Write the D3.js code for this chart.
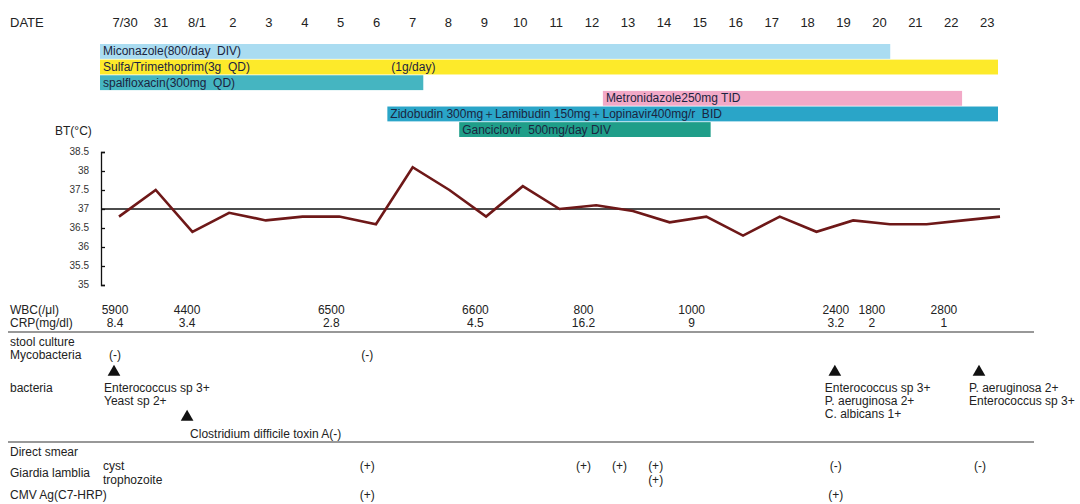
<!DOCTYPE html>
<html>
<head>
<meta charset="utf-8">
<script src="https://cdn.jsdelivr.net/npm/d3@7"></script>
<style>
body { margin: 0; background: #fff; }
text { font-family: "Liberation Sans", Arial, sans-serif; fill: #222; }
</style>
</head>
<body>
<div id="chart-area"></div>
<script>
// days of the stay, as written in the header row
var dates = ["7/30", "31", "8/1", "2", "3", "4", "5", "6", "7", "8", "9", "10", "11",
  "12", "13", "14", "15", "16", "17", "18", "19", "20", "21", "22", "23"];

// body temperature, one reading per day
var bodyTemp = [36.8, 37.5, 36.4, 36.9, 36.7, 36.8, 36.8, 36.6, 38.1, 37.5, 36.8, 37.6, 37.0,
  37.1, 36.95, 36.65, 36.8, 36.3, 36.8, 36.4, 36.7, 36.6, 36.6, 36.7, 36.8];
var tempTicks = [35, 35.5, 36, 36.5, 37, 37.5, 38, 38.5];
var normalTemp = 37;

// drugs: first and last day given
var drugNames = ["Miconazole(800/day  DIV)", "Sulfa/Trimethoprim(3g  QD)", "spalfloxacin(300mg  QD)",
  "Metronidazole250mg TID", "Zidobudin 300mg＋Lamibudin 150mg＋Lopinavir400mg/r  BID",
  "Ganciclovir  500mg/day DIV"];
var drugStart = ["7/30", "7/30", "7/30", "13", "7", "9"];
var drugEnd = ["20", "23", "7", "22", "23", "15"];
var doseChange = { drug: 1, day: "7", text: "(1g/day)" };

// blood tests
var labDays = ["7/30", "8/1", "5", "9", "12", "15", "19", "20", "22"];
var wbc = [5900, 4400, 6500, 6600, 800, 1000, 2400, 1800, 2800];
var crp = [8.4, 3.4, 2.8, 4.5, 16.2, 9, 3.2, 2, 1];

// stool culture
var mycoDays = ["7/30", "6"];
var mycoResults = ["(-)", "(-)"];
var cultureDays = ["7/30", "19", "23"];
var cultureResults = [
  ["Enterococcus sp 3+", "Yeast sp 2+"],
  ["Enterococcus sp 3+", "P. aeruginosa 2+", "C. albicans 1+"],
  ["P. aeruginosa 2+", "Enterococcus sp 3+"]
];
var toxinDay = "8/1";
var toxinResult = "Clostridium difficile toxin A(-)";

// direct smear / antigen
var cystDays = ["6", "12", "13", "14", "19", "23"];
var cystResults = ["(+)", "(+)", "(+)", "(+)", "(-)", "(-)"];
var trophoDays = ["14"];
var trophoResults = ["(+)"];
var cmvDays = ["6", "19"];
var cmvResults = ["(+)", "(+)"];

var drugColors = ["#aadcf1", "#fdea2a", "#45b5c1", "#f2a9c7", "#2aa5c8", "#1f9e89"];

var width = 1080, height = 504;

var svg = d3.select("#chart-area")
  .append("svg")
  .attr("width", width)
  .attr("height", height)
  .style("background-color", "white");

// header + drug bars sit on day cells
var xDay = d3.scaleBand().domain(dates).range([100, 998]);
// temperature points
var xTemp = d3.scalePoint().domain(dates).range([119, 1000]);
// lab table columns
var xTab = d3.scalePoint().domain(dates).range([115, 980]);

var y = d3.scaleLinear().domain([35, 38.5]).range([285, 152]);
var lane = d3.scaleBand().domain(d3.range(drugNames.length)).range([44, 137]).paddingInner(0.05);

// header
svg.append("text")
  .attr("x", 10)
  .attr("y", 27)
  .attr("font-size", "13px")
  .text("DATE");

svg.selectAll(".date-label")
  .data(dates)
  .enter().append("text")
  .attr("class", "date-label")
  .attr("x", d => xDay(d) + xDay.bandwidth() * 0.7)
  .attr("y", 27)
  .attr("font-size", "13px")
  .attr("text-anchor", "middle")
  .text(d => d);

// drug bars
var drugs = drugNames.map((name, i) => ({ name: name, start: drugStart[i], end: drugEnd[i], i: i }));

svg.selectAll(".drug")
  .data(drugs)
  .enter().append("rect")
  .attr("class", "drug")
  .attr("x", d => xDay(d.start))
  .attr("y", d => lane(d.i))
  .attr("width", d => xDay(d.end) + xDay.bandwidth() - xDay(d.start))
  .attr("height", lane.bandwidth())
  .attr("fill", d => drugColors[d.i]);

svg.selectAll(".drug-label")
  .data(drugs)
  .enter().append("text")
  .attr("class", "drug-label")
  .attr("x", d => xDay(d.start) + 3)
  .attr("y", d => lane(d.i) + lane.bandwidth() / 2 + 4)
  .attr("font-size", "12px")
  .style("white-space", "pre")
  .style("fill", "#1b2440")
  .text(d => d.name);

svg.append("text")
  .attr("x", xDay(doseChange.day) + 4)
  .attr("y", lane(doseChange.drug) + lane.bandwidth() / 2 + 4)
  .attr("font-size", "12px")
  .style("fill", "#1b2440")
  .text(doseChange.text);

// temperature chart
svg.append("text")
  .attr("x", 55)
  .attr("y", 135)
  .attr("font-size", "12px")
  .text("BT(°C)");

var yAxis = svg.append("g")
  .attr("transform", "translate(101,0)")
  .call(d3.axisLeft(y)
    .tickValues(tempTicks)
    .tickSizeInner(-4)
    .tickSizeOuter(-4)
    .tickPadding(12)
    .tickFormat(d => d));

yAxis.selectAll(".domain, .tick line")
  .attr("stroke", "#111")
  .attr("stroke-width", 1.3);
yAxis.selectAll("text")
  .attr("font-size", "10px")
  .attr("font-family", "Liberation Sans, Arial, sans-serif")
  .attr("dy", "0.2em")
  .style("fill", "#333");

svg.append("line")
  .attr("x1", 101)
  .attr("x2", xTemp(dates[dates.length - 1]))
  .attr("y1", y(normalTemp))
  .attr("y2", y(normalTemp))
  .attr("stroke", "#111")
  .attr("stroke-width", 1.5);

var line = d3.line()
  .x((d, i) => xTemp(dates[i]))
  .y(d => y(d));

svg.append("path")
  .datum(bodyTemp)
  .attr("d", line)
  .attr("fill", "none")
  .attr("stroke", "#6e1818")
  .attr("stroke-width", 2.6)
  .attr("stroke-linejoin", "miter");

// table row labels
var rowLabels = [
  ["WBC(/μl)", 10, 314], ["CRP(mg/dl)", 10, 327], ["stool culture", 10, 346],
  ["Mycobacteria", 10, 359], ["bacteria", 10, 392], ["Direct smear", 10, 456],
  ["Giardia lamblia", 10, 477], ["cyst", 103, 470], ["trophozoite", 103, 484],
  ["CMV Ag(C7-HRP)", 10, 499]
];

svg.selectAll(".row-label")
  .data(rowLabels)
  .enter().append("text")
  .attr("class", "row-label")
  .attr("x", d => d[1])
  .attr("y", d => d[2])
  .attr("font-size", "12px")
  .text(d => d[0]);

[332, 442].forEach(yy => {
  svg.append("line")
    .attr("x1", 8).attr("x2", 1034)
    .attr("y1", yy).attr("y2", yy)
    .attr("stroke", "#333")
    .attr("stroke-width", 1.2);
});

function rowValues(days, values, yy) {
  svg.append("g").selectAll("text")
    .data(days)
    .enter().append("text")
    .attr("x", d => xTab(d))
    .attr("y", yy)
    .attr("font-size", "12px")
    .attr("text-anchor", "middle")
    .text((d, i) => values[i]);
}

rowValues(labDays, wbc, 314);
rowValues(labDays, crp, 327);
rowValues(mycoDays, mycoResults, 359);
rowValues(cystDays, cystResults, 470);
rowValues(trophoDays, trophoResults, 484);
rowValues(cmvDays, cmvResults, 499);

// culture positives
var tri = d3.symbol().type(d3.symbolTriangle).size(70);

cultureDays.forEach((day, k) => {
  var g = svg.append("g");
  var lines = g.selectAll("text")
    .data(cultureResults[k])
    .enter().append("text")
    .attr("x", xTab(day) - 11)
    .attr("y", (d, i) => 392 + i * 13)
    .attr("font-size", "12px")
    .text(d => d);
  var widest = d3.max(lines.nodes(), n => n.getComputedTextLength());
  var shift = Math.min(0, width - 3 - (xTab(day) - 11 + widest));
  g.attr("transform", "translate(" + shift + ",0)");
  g.append("path")
    .attr("d", tri)
    .attr("transform", "translate(" + (xTab(day) - 1) + ",372)")
    .attr("fill", "#111");
});

svg.append("path")
  .attr("d", tri)
  .attr("transform", "translate(" + xTab(toxinDay) + ",417)")
  .attr("fill", "#111");

svg.append("text")
  .attr("x", xTab(toxinDay) + 3)
  .attr("y", 438)
  .attr("font-size", "12px")
  .text(toxinResult);
</script>
</body>
</html>
